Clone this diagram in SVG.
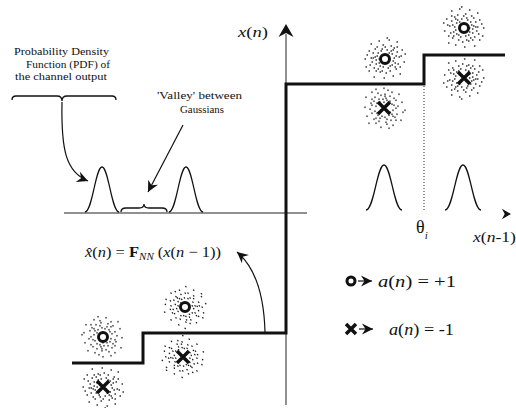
<svg xmlns="http://www.w3.org/2000/svg" xmlns:xlink="http://www.w3.org/1999/xlink" width="516" height="408" viewBox="0 0 516 408">
<style>
text{font-family:"Liberation Serif","Times New Roman",serif;fill:#111}
.it{font-style:italic}
.lab{font-size:11px}
.step{fill:none;stroke:#111;stroke-width:3;stroke-linejoin:miter}
.axis{fill:none;stroke:#222;stroke-width:1}
.curve{fill:none;stroke:#111;stroke-width:1.3}
.conn{fill:none;stroke:#111;stroke-width:1.2}
.ring{fill:none;stroke:#111;stroke-width:3}
.cross{stroke:#111;stroke-width:3.5;stroke-linecap:butt}
.dots{fill:none;stroke:#222;stroke-width:1.3;stroke-linecap:round}
</style>
<defs>
<marker id="arr" viewBox="-12 -6 13 12" refX="0" refY="0" markerWidth="13" markerHeight="12" markerUnits="userSpaceOnUse" orient="auto">
<path d="M0,0 L-11,-5.5 L-7.5,0 L-11,5.5Z" fill="#111"/>
</marker>
<path id="ah" d="M0,0 L-13,-7.5 L-9,0 L-13,7.5Z" fill="#111"/>
<path id="cloud" class="dots" d="M-8-3h.5M-6 4h.5M-9 1h.5M7-5h.5M8 2h.5M5 7h.5M-4-8h.5M2-9h.5M-2 8h.5M9-1h.5M-7-6h.5M6-8h.5M-5 7h.5M3 9h.5M-10-2h.5M10 4h.5M-3-10h.5M4-6h.5M-6 0h.5M7 6h.5M-12-6h.5M-13 3h.5M12-7h.5M13 5h.5M-11 9h.5M11 10h.5M-8-12h.5M6-13h.5M-2-14h.5M1 14h.5M-9 12h.5M14-2h.5M-14-1h.5M9-11h.5M-5 13h.5M5 12h.5M-15 6h.5M15 8h.5M-10-10h.5M12-12h.5M-18-4h.5M17-9h.5M-16 12h.5M19 3h.5M-6-18h.5M4-19h.5M-1 19h.5M8 17h.5M-19 8h.5M20-5h.5M-14-15h.5M15 15h.5M-20 0h.5M2-21h.5M-11 18h.5M12-17h.5M-9 5h.5M8-9h.5M-3 12h.5M11-3h.5M-12-1h.5M0-12h.5M-7 10h.5M10 8h.5M-16-8h.5M16-3h.5"/>
<path id="bell" class="curve" d="M-18,0 C-10,0 -7,-45 0,-45 C7,-45 10,0 18,0"/>
</defs>

<g id="axes">
<line class="axis" x1="286" y1="34" x2="286" y2="405"/>
<use xlink:href="#ah" href="#ah" transform="translate(286,24) rotate(-90)"/>
<line class="axis" x1="64" y1="213" x2="307" y2="213"/>
<use xlink:href="#ah" href="#ah" transform="translate(511,214) scale(0.7)"/>
<text id="lbl-xn" x="238" y="37" font-size="15" textLength="30" lengthAdjust="spacingAndGlyphs"><tspan class="it">x</tspan>(<tspan class="it">n</tspan>)</text>
<text id="lbl-xn1" x="473" y="242" font-size="15" textLength="43" lengthAdjust="spacingAndGlyphs"><tspan class="it">x</tspan>(<tspan class="it">n</tspan>-1)</text>
</g>

<g id="step-function">
<path class="step" d="M72,363 H143 V333 H286 V84 H424 V55 H505"/>
<line x1="424" y1="86" x2="424" y2="212" stroke="#222" stroke-width="1" stroke-dasharray="1,2"/>
<text id="theta" x="416" y="233" font-size="18">θ<tspan class="it" font-size="11" dy="6">i</tspan></text>
</g>

<g id="clusters">
<g id="c1"><use xlink:href="#cloud" href="#cloud" transform="translate(385,59)"/><circle class="ring" cx="385" cy="59" r="4.5"/></g>
<g id="c2"><use xlink:href="#cloud" href="#cloud" transform="translate(384,108) rotate(90)"/><path class="cross" d="M378,102 L390,114 M390,102 L378,114"/></g>
<g id="c3"><use xlink:href="#cloud" href="#cloud" transform="translate(464,28) scale(-1,1)"/><circle class="ring" cx="464" cy="28" r="4.5"/></g>
<g id="c4"><use xlink:href="#cloud" href="#cloud" transform="translate(464,78) rotate(180)"/><path class="cross" d="M458,72 L470,84 M470,72 L458,84"/></g>
<g id="c5"><use xlink:href="#cloud" href="#cloud" transform="translate(103,337) rotate(-90)"/><circle class="ring" cx="103" cy="337" r="4.5"/></g>
<g id="c6"><use xlink:href="#cloud" href="#cloud" transform="translate(103,387) scale(1,-1)"/><path class="cross" d="M97,381 L109,393 M109,381 L97,393"/></g>
<g id="c7"><use xlink:href="#cloud" href="#cloud" transform="translate(185,307) rotate(45)"/><circle class="ring" cx="185" cy="307" r="4.5"/></g>
<g id="c8"><use xlink:href="#cloud" href="#cloud" transform="translate(183,357) rotate(-135)"/><path class="cross" d="M177,351 L189,363 M189,351 L177,363"/></g>
</g>

<g id="pdf-left">
<use xlink:href="#bell" href="#bell" transform="translate(102,212) scale(0.95,1)"/>
<use xlink:href="#bell" href="#bell" transform="translate(186,212) scale(0.95,1)"/>
<path class="curve" d="M121,212 Q121,208 126,208 H139 Q144,208 144,204 Q144,208 149,208 H162 Q167,208 167,212"/>
</g>

<g id="pdf-right">
<use xlink:href="#bell" href="#bell" transform="translate(384,210)"/>
<use xlink:href="#bell" href="#bell" transform="translate(463,210)"/>
</g>

<g id="label-pdf">
<text class="lab" x="14" y="55.3" textLength="95" lengthAdjust="spacingAndGlyphs">Probability Density</text>
<text class="lab" x="26" y="67.6" textLength="84" lengthAdjust="spacingAndGlyphs">Function (PDF) of</text>
<text class="lab" x="15" y="79.9" textLength="92" lengthAdjust="spacingAndGlyphs">the channel output</text>
<path class="curve" d="M12,100 Q12,96 16,96 H57 Q62,96 62,101 Q62,96 67,96 H112 Q116,96 116,100"/>
</g>

<g id="label-valley">
<text class="lab" x="157" y="99" textLength="85" lengthAdjust="spacingAndGlyphs">'Valley' between</text>
<text class="lab" x="180" y="113" textLength="44" lengthAdjust="spacingAndGlyphs">Gaussians</text>
</g>

<g id="label-formula">
<text x="85" y="257" font-size="15" textLength="136" lengthAdjust="spacingAndGlyphs"><tspan class="it">x&#x302;</tspan>(<tspan class="it">n</tspan>) = <tspan font-weight="bold">F</tspan><tspan class="it" font-size="10" dy="3">NN</tspan><tspan dy="-3"> (</tspan><tspan class="it">x</tspan>(<tspan class="it">n</tspan> − 1))</text>
</g>

<g id="legend">
<circle class="ring" cx="351" cy="281" r="4" stroke-width="2.8"/>
<line class="conn" x1="358" y1="281" x2="372" y2="281" marker-end="url(#arr)"/>
<text x="378" y="287" font-size="17" textLength="78" lengthAdjust="spacingAndGlyphs"><tspan class="it">a</tspan>(<tspan class="it">n</tspan>) = +1</text>
<path class="cross" d="M346,324 L356,334 M356,324 L346,334" stroke-width="3"/>
<line class="conn" x1="359" y1="329" x2="373" y2="329" marker-end="url(#arr)"/>
<text x="389" y="335" font-size="17" textLength="65" lengthAdjust="spacingAndGlyphs"><tspan class="it">a</tspan>(<tspan class="it">n</tspan>) = -1</text>
</g>

<g id="connectors">
<path class="conn" d="M62,102 C61,150 66,172 88,181" marker-end="url(#arr)"/>
<path class="conn" d="M183,125 L148,192" marker-end="url(#arr)"/>
<path class="conn" d="M265,332 C264,295 256,268 237,252" marker-end="url(#arr)"/>
</g>
</svg>
